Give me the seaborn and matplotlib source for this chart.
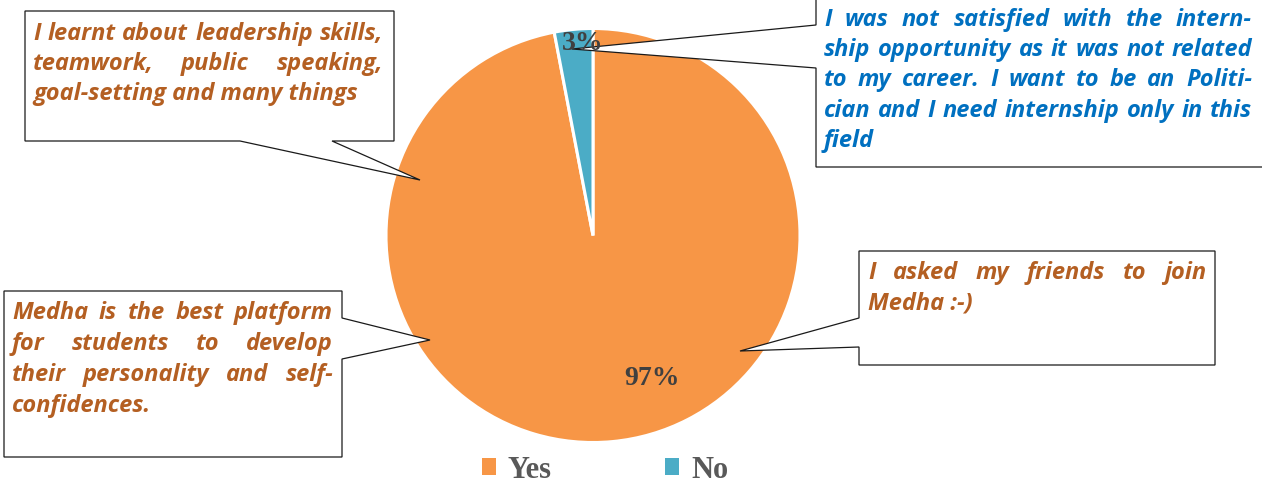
import matplotlib
matplotlib.use("Agg")
import matplotlib.pyplot as plt
from matplotlib.patches import Polygon, Patch
import seaborn as sns

# survey answers
answers = ["Yes", "No"]
shares = [97, 3]
answer_colors = ["#F79646", "#4BACC6"]

# student comments, one list item per printed line
comment_skills = ["I learnt about leadership skills,",
                  "teamwork, public speaking,",
                  "goal-setting and many things"]
comment_platform = ["Medha is the best platform",
                    "for students to develop",
                    "their personality and self-",
                    "confidences."]
comment_friends = ["I asked my friends to join",
                   "Medha :-)"]
comment_career = ["I was not satisfied with the intern-",
                  "ship opportunity as it was not related",
                  "to my career. I want to be an Politi-",
                  "cian and I need internship only in this",
                  "field"]

W, H = 1262, 485
sns.set_style("white")
plt.rcParams["font.family"] = ["Open Sans", "DejaVu Sans"]

fig = plt.figure(figsize=(W / 100, H / 100), dpi=100)

# pie, placed so that centre / radius match the reference
cx, cy, r = 593, 236.5, 207
ax = fig.add_axes([(cx - r) / W, 1 - (cy + r) / H, 2 * r / W, 2 * r / H], zorder=1)
wedges, _ = ax.pie(shares, colors=sns.color_palette(answer_colors), startangle=90,
                   counterclock=False,
                   wedgeprops=dict(edgecolor="white", linewidth=2.2))
ax.set_xlim(-1, 1)
ax.set_ylim(-1, 1)
ax.set_aspect("equal")

# overlay in pixel coordinates for the callouts
ov = fig.add_axes([0, 0, 1, 1], zorder=2)
ov.set_xlim(0, W)
ov.set_ylim(H, 0)
ov.axis("off")

callouts = [
    [(25, 12), (394, 12), (394, 142), (332, 142), (420, 181), (240, 142), (25, 142)],
    [(4, 292), (342, 292), (342, 319), (430, 341), (342, 360), (342, 458), (4, 458)],
    [(859, 252), (1215, 252), (1215, 366), (859, 366), (859, 348), (740, 352), (859, 319)],
    [(816, -5), (1270, -5), (1270, 168), (816, 168), (816, 69), (572, 50), (816, 26)],
]
for pts in callouts:
    ov.add_patch(Polygon(pts, closed=True, facecolor="white", edgecolor="#1a1a1a",
                         linewidth=0.9))

renderer = fig.canvas.get_renderer()


def justified(lines, left, right, base, step, color):
    style = dict(fontsize=17, fontweight="bold", fontstyle="italic", color=color,
                 va="baseline", ha="left")
    for i, line in enumerate(lines):
        y = base + i * step
        words = line.split(" ")
        if i == len(lines) - 1 or len(words) == 1:
            ov.text(left, y, line, **style)
            continue
        arts = [ov.text(0, y, w, **style) for w in words]
        widths = [a.get_window_extent(renderer).width for a in arts]
        gap = (right - left - sum(widths)) / (len(words) - 1)
        x = left
        for a, w in zip(arts, widths):
            a.set_x(x)
            x += w + gap


brown = "#B45F22"
justified(comment_skills, 33, 383, 40, 30, brown)
justified(comment_platform, 12, 333, 319, 31, brown)
justified(comment_friends, 868, 1206, 279, 31, brown)
justified(comment_career, 824, 1252, 26, 30.2, "#0070C0")

# percentage labels, on top of the callouts
label_pos = [(0.283, -0.684), (-0.048, 0.93)]
for v, (x, y) in zip(shares, label_pos):
    ov.text(x, y, f"{v}%", transform=ax.transData, ha="center", va="center",
            family=["Liberation Serif", "DejaVu Serif"], fontweight="bold",
            fontsize=20, color="#404040")

handles = [Patch(facecolor=c, edgecolor="none") for c in answer_colors]
fig.legend(handles, answers, loc="center", bbox_to_anchor=(605 / W, 1 - 471 / H),
           ncol=2, frameon=False,
           prop=dict(family=["Liberation Serif", "DejaVu Serif"], weight="bold", size=22),
           labelcolor="#595959", handlelength=0.45, handleheight=0.45,
           handletextpad=0.4, columnspacing=3.7)

fig.savefig("out.png", dpi=100)
